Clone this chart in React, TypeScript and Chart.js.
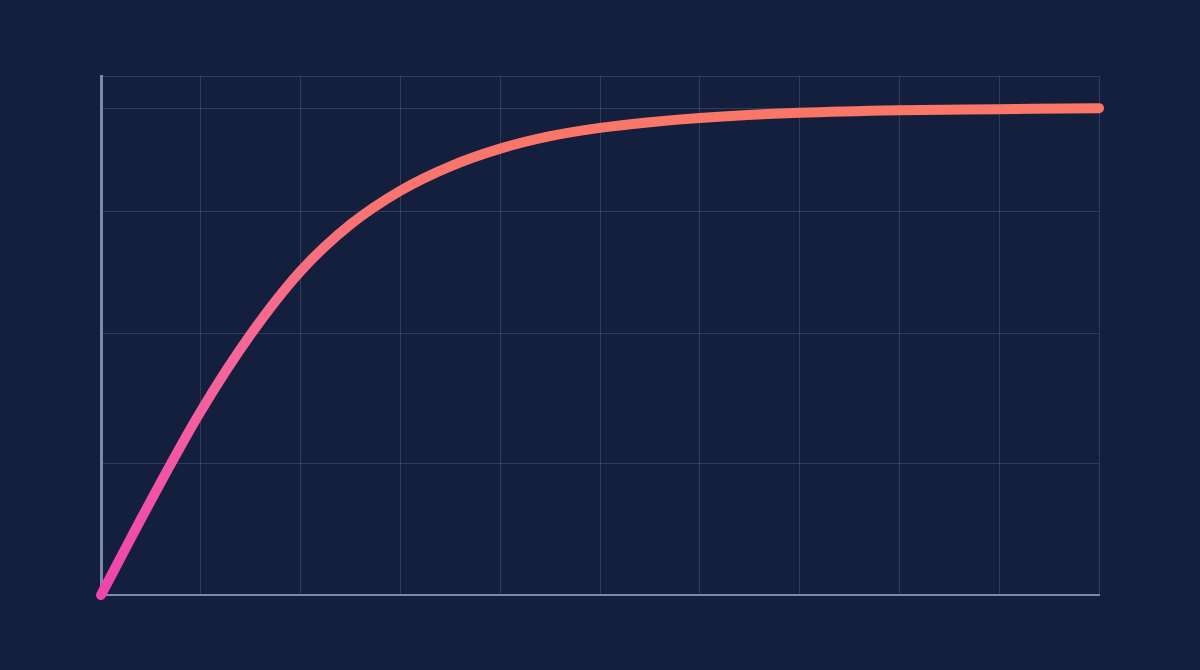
import React, { useEffect, useRef } from "react";
import { Chart, registerables } from "chart.js";

Chart.register(...registerables);

// values
const xValues = [0, 0.5, 1, 1.5, 2, 2.5, 3, 3.5, 4, 4.5, 5, 5.5, 6, 7, 8, 9, 10];
const yValues = [0, 18.2, 35.4, 50.2, 62.4, 71.4, 77.9, 82.6, 86.0, 88.4, 90.0, 91.1, 91.9, 92.9, 93.4, 93.6, 93.8];
const yGridValues = [0, 25.4, 50.3, 73.8, 93.8, 100];

const BG = "#141f3d";
const GRID = "rgba(150, 165, 200, 0.22)";
const AXIS = "#7d89a8";

export default function App() {
  const chartRef = useRef<HTMLCanvasElement | null>(null);

  useEffect(() => {
    document.body.style.margin = "0";
    document.body.style.background = BG;

    const points = xValues.map((x, i) => ({ x, y: yValues[i] }));

    const chart = new Chart(chartRef.current as HTMLCanvasElement, {
      type: "line",
      data: {
        datasets: [
          {
            data: points,
            borderWidth: 10,
            borderCapStyle: "round",
            borderJoinStyle: "round",
            pointRadius: 0,
            cubicInterpolationMode: "monotone",
            clip: false,
            borderColor: (ctx: any) => {
              const area = ctx.chart.chartArea;
              if (!area) return "#f96f6c";
              const g = ctx.chart.ctx.createLinearGradient(0, area.bottom, 0, area.top);
              g.addColorStop(0, "#ee44ad");
              g.addColorStop(0.45, "#f5669a");
              g.addColorStop(0.75, "#f97370");
              g.addColorStop(1, "#fa7864");
              return g;
            },
          },
        ],
      },
      options: {
        animation: false,
        responsive: true,
        maintainAspectRatio: false,
        layout: { padding: { left: 101, right: 101, top: 76, bottom: 75 } },
        plugins: { legend: { display: false }, tooltip: { enabled: false } },
        scales: {
          x: {
            type: "linear",
            min: 0,
            max: 10,
            ticks: { display: false, stepSize: 1 },
            grid: { color: GRID, lineWidth: 1, drawTicks: false },
            border: { display: true, color: AXIS, width: 2 },
          },
          y: {
            type: "linear",
            min: 0,
            max: 100,
            afterBuildTicks: (scale: any) => {
              scale.ticks = yGridValues.map((v) => ({ value: v }));
            },
            ticks: { display: false },
            grid: { color: GRID, lineWidth: 1, drawTicks: false },
            border: { display: true, color: AXIS, width: 3 },
          },
        },
      },
    });

    return () => {
      chart.destroy();
    };
  }, []);

  return (
    <div style={{ width: 1200, height: 670, position: "relative", background: BG }}>
      <canvas ref={chartRef}></canvas>
    </div>
  );
}
